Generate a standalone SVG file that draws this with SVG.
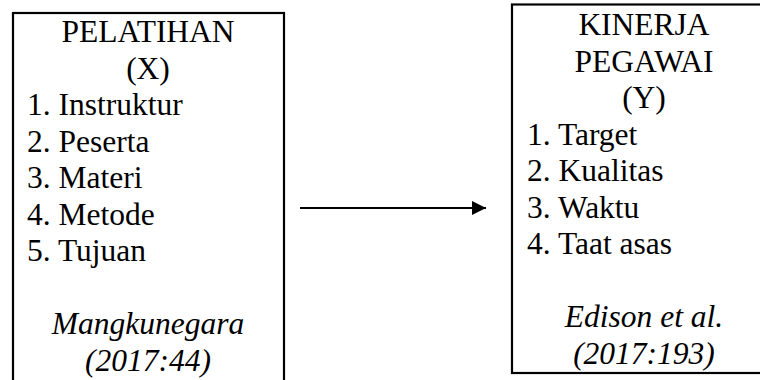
<svg xmlns="http://www.w3.org/2000/svg" width="760" height="380" viewBox="0 0 760 380">
<defs>
<style>
.box{fill:none;stroke:#000;stroke-width:2.2}
text{font-family:'Liberation Serif','Times New Roman',Times,serif;font-size:31.5px;fill:#000}
.c{text-anchor:middle}
.i{font-style:italic}
.conn{stroke:#000;stroke-width:2.2;fill:none}
</style>
<marker id="arr" markerWidth="14" markerHeight="14" refX="14" refY="7" orient="auto" markerUnits="userSpaceOnUse">
<path d="M0,0 L14,7 L0,14 Z" fill="#000"/>
</marker>
</defs>
<rect width="760" height="380" fill="#fff"/>
<g id="node-x" font-family="Liberation Serif, serif">
<rect class="box" x="13" y="13" width="271" height="380"/>
<text class="c" x="148" y="42">PELATIHAN</text>
<text class="c" x="148" y="78.5">(X)</text>
<text x="27" y="115">1. Instruktur</text>
<text x="27" y="151.5">2. Peserta</text>
<text x="27" y="188">3. Materi</text>
<text x="27" y="224.5">4. Metode</text>
<text x="27" y="261">5. Tujuan</text>
<text class="c i" x="148" y="334">Mangkunegara</text>
<text class="c i" x="148" y="370.5">(2017:44)</text>
</g>
<g id="node-y" font-family="Liberation Serif, serif">
<rect class="box" x="512" y="4.5" width="264" height="368.5"/>
<text class="c" x="644" y="35">KINERJA</text>
<text class="c" x="644" y="71.5">PEGAWAI</text>
<text class="c" x="644" y="108">(Y)</text>
<text x="527" y="144.5">1. Target</text>
<text x="527" y="181">2. Kualitas</text>
<text x="527" y="217.5">3. Waktu</text>
<text x="527" y="254">4. Taat asas</text>
<text class="c i" x="644" y="327">Edison et al.</text>
<text class="c i" x="644" y="363.5">(2017:193)</text>
</g>
<g id="connectors">
<line class="conn" x1="300" y1="208" x2="486" y2="208" marker-end="url(#arr)"/>
</g>
</svg>
